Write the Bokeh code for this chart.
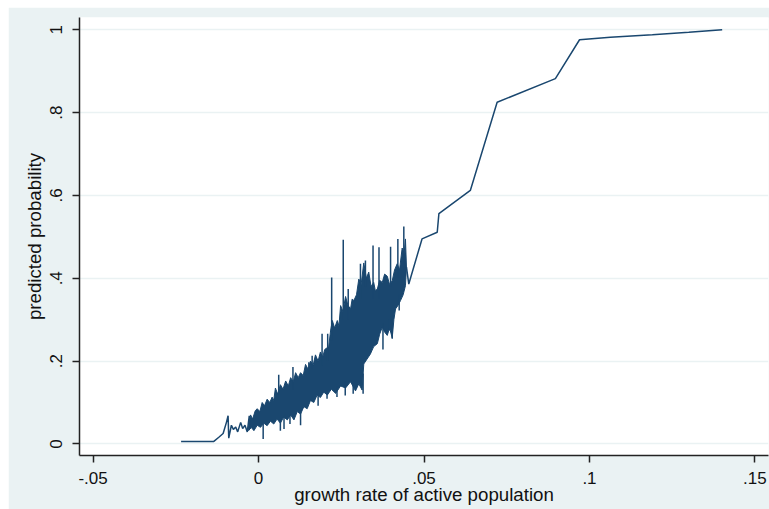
from bokeh.plotting import figure
from bokeh.models import FixedTicker, ColumnDataSource
from bokeh.embed import file_html
from bokeh.resources import INLINE

# ---- data ----
x_ticks = [-0.05, 0.0, 0.05, 0.1, 0.15]
x_tick_labels = ["-.05", "0", ".05", ".1", ".15"]
y_ticks = [0.0, 0.2, 0.4, 0.6, 0.8, 1.0]
y_tick_labels = ["0", ".2", ".4", ".6", ".8", "1"]

# left tail of the curve (sparse observations)
left_x = [-0.0234, -0.0135, -0.0120, -0.0107, -0.0097, -0.0092, -0.0090, -0.0082,
          -0.0076, -0.0069, -0.0063, -0.0054, -0.0048, -0.0041, -0.0034, -0.0028, -0.0024]
left_y = [0.006, 0.006, 0.016, 0.025, 0.052, 0.068, 0.014, 0.045,
          0.035, 0.041, 0.029, 0.052, 0.037, 0.045, 0.029, 0.068, 0.037]

# dense region: upper envelope of the oscillating line
band_up_x = [-0.0030, -0.0024, -0.0018, -0.0010, -0.0004, 0.0004, 0.0011, 0.0018, 0.0026,
             0.0034, 0.0041, 0.0046, 0.0051, 0.0058, 0.0066, 0.0074, 0.0082, 0.0090,
             0.0097, 0.0105, 0.0112, 0.0120, 0.0127, 0.0135, 0.0142, 0.0150, 0.0157,
             0.0165, 0.0172, 0.0180, 0.0187, 0.0194, 0.0200, 0.0212, 0.0218, 0.0223,
             0.0230, 0.0238, 0.0243, 0.0248, 0.0255, 0.0263, 0.0270, 0.0278, 0.0283,
             0.0288, 0.0296, 0.0303, 0.0310, 0.0318, 0.0326, 0.0333, 0.0340, 0.0348,
             0.0353, 0.0359, 0.0366, 0.0374, 0.0381, 0.0389, 0.0396, 0.0404, 0.0411,
             0.0419, 0.0426, 0.0434, 0.0440, 0.0444, 0.0447]
band_up_y = [0.045, 0.070, 0.060, 0.080, 0.085, 0.078, 0.100, 0.092, 0.108,
             0.100, 0.113, 0.105, 0.135, 0.120, 0.143, 0.132, 0.152, 0.140,
             0.160, 0.150, 0.172, 0.160, 0.172, 0.165, 0.192, 0.180, 0.200,
             0.190, 0.215, 0.200, 0.222, 0.210, 0.228, 0.235, 0.275, 0.298,
             0.280, 0.298, 0.285, 0.334, 0.320, 0.356, 0.335, 0.326, 0.350,
             0.346, 0.360, 0.398, 0.385, 0.437, 0.400, 0.415, 0.380, 0.390,
             0.370, 0.374, 0.395, 0.390, 0.410, 0.405, 0.385, 0.394, 0.420,
             0.435, 0.420, 0.473, 0.460, 0.495, 0.427]
# dense region: lower envelope
band_lo_x = [-0.0030, -0.0022, -0.0014, -0.0004, 0.0006, 0.0016, 0.0026, 0.0036, 0.0046,
             0.0056, 0.0066, 0.0076, 0.0087, 0.0097, 0.0107, 0.0117, 0.0127, 0.0137,
             0.0147, 0.0157, 0.0167, 0.0177, 0.0187, 0.0197, 0.0208, 0.0220, 0.0233,
             0.0248, 0.0263, 0.0278, 0.0293, 0.0303, 0.0313, 0.0318, 0.0328, 0.0338,
             0.0348, 0.0359, 0.0366, 0.0374, 0.0381, 0.0389, 0.0396, 0.0404, 0.0409,
             0.0414, 0.0422, 0.0429, 0.0437, 0.0444, 0.0447]
band_lo_y = [0.032, 0.040, 0.032, 0.045, 0.040, 0.050, 0.044, 0.055, 0.048,
             0.060, 0.050, 0.065, 0.058, 0.070, 0.058, 0.078, 0.072, 0.090,
             0.085, 0.105, 0.100, 0.118, 0.112, 0.125, 0.118, 0.132, 0.122,
             0.140, 0.135, 0.150, 0.128, 0.145, 0.130, 0.193, 0.205, 0.217,
             0.235, 0.242, 0.265, 0.282, 0.270, 0.262, 0.280, 0.256, 0.300,
             0.326, 0.335, 0.346, 0.360, 0.382, 0.427]

# isolated excursions of the dense line (x, from, to)
spike_x = [0.0061, 0.0104, 0.0152, 0.0162, 0.0192, 0.0209, 0.0221, 0.0256, 0.0271,
           0.0308, 0.0323, 0.0346, 0.0364, 0.0399, 0.0421, 0.0439,
           0.0014, 0.0066, 0.0077, 0.0095, 0.0127, 0.0180, 0.0207, 0.0237, 0.0262,
           0.0286, 0.0316, 0.0376, 0.0396, 0.0404, 0.0425]
spike_from = [0.12, 0.13, 0.17, 0.18, 0.19, 0.20, 0.25, 0.30, 0.30,
              0.35, 0.38, 0.35, 0.35, 0.38, 0.40, 0.42,
              0.05, 0.06, 0.07, 0.07, 0.08, 0.12, 0.13, 0.14, 0.15,
              0.15, 0.17, 0.29, 0.30, 0.30, 0.36]
spike_to = [0.167, 0.186, 0.197, 0.213, 0.266, 0.266, 0.402, 0.493, 0.374,
            0.435, 0.443, 0.479, 0.475, 0.476, 0.495, 0.525,
            0.012, 0.032, 0.036, 0.048, 0.045, 0.092, 0.109, 0.113, 0.117,
            0.121, 0.121, 0.228, 0.274, 0.254, 0.322]

# right tail of the curve
right_x = [0.0447, 0.0454, 0.0494, 0.0540, 0.0545, 0.0640, 0.0721, 0.0897, 0.0970,
           0.1063, 0.1190, 0.1300, 0.1401]
right_y = [0.427, 0.386, 0.495, 0.511, 0.556, 0.612, 0.825, 0.882, 0.976,
           0.982, 0.988, 0.994, 1.000]

NAVY = "#1a476f"
BG = "#eaf2f3"
FONT = "Liberation Sans"

p = figure(width=761, height=502, output_backend="svg", toolbar_location=None,
           x_range=(-0.0541, 0.1541), y_range=(-0.028, 1.0297),
           min_border_left=71, min_border_right=1, min_border_top=10, min_border_bottom=54)
p.margin = (7, 0, 0, 8)
p.border_fill_color = BG
p.background_fill_color = "white"
p.outline_line_color = None

p.xgrid.visible = False
p.ygrid.ticker = FixedTicker(ticks=y_ticks)
p.ygrid.grid_line_color = BG
p.ygrid.grid_line_width = 1.5

for ax in (p.xaxis[0], p.yaxis[0]):
    ax.axis_line_color = "#222222"
    ax.axis_line_width = 1.5
    ax.major_tick_line_color = "#222222"
    ax.major_tick_line_width = 1.5
    ax.major_tick_out = 7
    ax.major_tick_in = 0
    ax.minor_tick_line_color = None
    ax.major_label_text_font = FONT
    ax.major_label_text_color = "#111111"
    ax.major_label_text_font_size = "17px"
    ax.axis_label_text_font = FONT
    ax.axis_label_text_font_style = "normal"
    ax.axis_label_text_color = "#111111"
    ax.axis_label_text_font_size = "18.7px"

p.xaxis.ticker = FixedTicker(ticks=x_ticks)
p.xaxis.major_label_overrides = {t: l for t, l in zip(x_ticks, x_tick_labels)}
p.xaxis.axis_label = "growth rate of active population"
p.xaxis.major_label_standoff = 9
p.xaxis.axis_label_standoff = -3

p.yaxis.ticker = FixedTicker(ticks=y_ticks)
p.yaxis.major_label_overrides = {t: l for t, l in zip(y_ticks, y_tick_labels)}
p.yaxis.axis_label = "predicted probability"
p.yaxis.major_label_orientation = "vertical"
p.yaxis.major_label_standoff = 10
p.yaxis.axis_label_standoff = 3

# dense band
band_x = band_up_x + band_lo_x[::-1]
band_y = band_up_y + band_lo_y[::-1]
p.patch(band_x, band_y, fill_color=NAVY, line_color=NAVY, line_width=1)

spikes = ColumnDataSource(dict(x=spike_x, y0=spike_from, y1=spike_to))
p.segment(x0="x", y0="y0", x1="x", y1="y1", source=spikes, line_color=NAVY, line_width=1.5)

p.line(left_x, left_y, line_color=NAVY, line_width=1.5)
p.line(right_x, right_y, line_color=NAVY, line_width=1.5)

open("out.html", "w").write(file_html(p, INLINE))
